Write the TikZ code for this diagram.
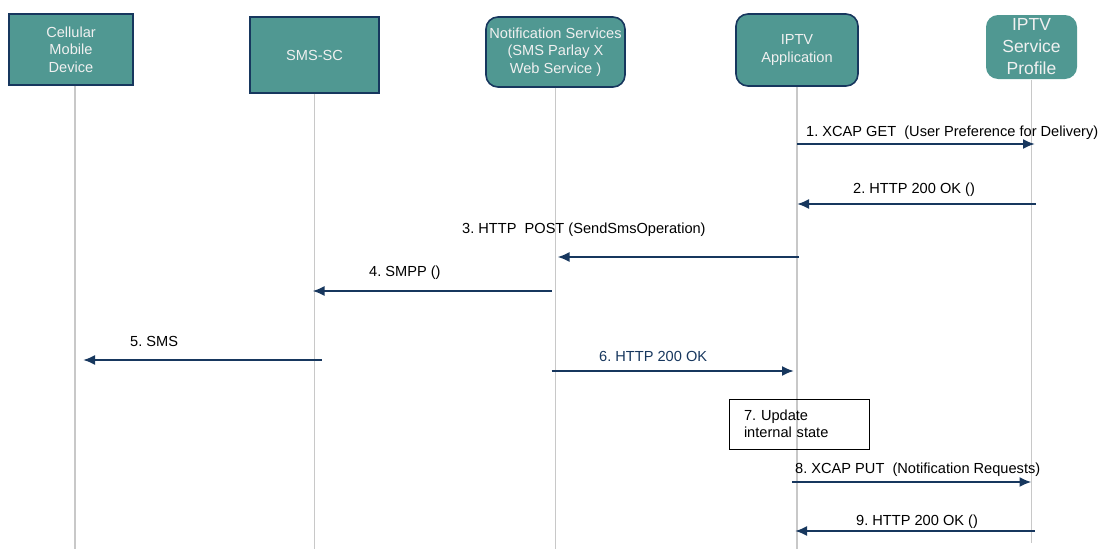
\documentclass[tikz,border=0pt]{standalone}
\usepackage{fontspec}
\setmainfont{Liberation Sans}
\usetikzlibrary{arrows.meta}
\frenchspacing

\definecolor{boxteal}{RGB}{80,152,146}
\definecolor{boxedge}{RGB}{23,55,94}
\definecolor{msgblue}{RGB}{23,55,94}
\definecolor{lifegray}{RGB}{200,200,200}

\tikzset{
  entity/.style={draw=boxedge, line width=1.6pt, fill=boxteal, text=white!94!black,
    align=center, inner sep=0pt, font=\fontsize{14.6}{17.7}\selectfont},
  rentity/.style={entity, rounded corners=12pt},
  lifeline/.style={draw=lifegray, line width=1.6pt},
  msg/.style={draw=msgblue, line width=2pt, -{Latex[length=12pt,width=10pt]}},
  msglabel/.style={anchor=west, inner sep=0pt, font=\fontsize{14.6}{17.7}\selectfont},
}

\begin{document}
\begin{tikzpicture}[x=1pt,y=-1pt]
\useasboundingbox (0,0) rectangle (1101,549);
\coordinate (bottom) at (0,549);

% entities
\node[entity, minimum width=124pt, minimum height=71pt] (dev) at (71,49.5) {Cellular\\Mobile\\Device};
\node[entity, minimum width=129pt, minimum height=76pt] (smsc) at (314.5,55) {SMS-SC};
\node[rentity, minimum width=139pt, minimum height=70pt] (notif) at (555.5,52) {Notification Services\\(SMS Parlay X\\Web Service )};
\node[rentity, minimum width=122pt, minimum height=72pt] (app) at (797,50) {IPTV\\Application};
\node[rentity, draw=none, minimum width=91pt, minimum height=64pt, font=\fontsize{17.5}{22}\selectfont] (prof) at (1031.5,47) {IPTV\\Service\\Profile};

% lifelines
\draw[lifeline] ([xshift=4pt]dev.south) -- ([xshift=4pt]dev.south |- bottom);
\draw[lifeline] (smsc.south) -- (smsc.south |- bottom);
\draw[lifeline] (notif.south) -- (notif.south |- bottom);
\draw[lifeline] (app.south) -- (app.south |- bottom);
\draw[lifeline] (prof.south) -- ([yshift=6pt]prof.south |- bottom);

% messages
\draw[msg] (app.south |- 0,144) -- ([xshift=3.5pt]prof.south |- 0,144);
\node[msglabel] (l1) at (806,133) {1. XCAP GET~~(User Preference for Delivery)};
\draw[msg] ([xshift=4pt]prof.south |- 0,204) -- (app.south |- 0,204);
\node[msglabel] (l2) at (853,190) {2. HTTP 200 OK ()};
\draw[msg] ([xshift=2pt]app.south |- 0,257) -- ([xshift=2pt]notif.south |- 0,257);
\node[msglabel] (l3) at (462,230) {3. HTTP~~POST (SendSmsOperation)};
\draw[msg] ([xshift=-4pt]notif.south |- 0,291) -- ([xshift=-2pt]smsc.south |- 0,291);
\node[msglabel] (l4) at (369,273) {4. SMPP ()};
\draw[msg] ([xshift=7pt]smsc.south |- 0,360) -- ([xshift=12pt]dev.south |- 0,360);
\node[msglabel] (l5) at (130,341) {5. SMS};
\draw[msg] ([xshift=-4pt]notif.south |- 0,371) -- ([xshift=-3pt]app.south |- 0,371);
\node[msglabel, text=msgblue] (l6) at (599,356) {6. HTTP 200 OK};

\node[draw=black, line width=1pt, text width=110pt, inner xsep=15pt, inner ysep=0pt,
  minimum height=50pt, align=left, font=\fontsize{14.6}{17.3}\selectfont] (upd) at (799,424) {7. Update\\internal state};

\draw[msg] ([xshift=-5pt]app.south |- 0,482) -- (prof.south |- 0,482);
\node[msglabel] (l8) at (795,470) {8. XCAP PUT~~(Notification Requests)};
\draw[msg] ([xshift=3pt]prof.south |- 0,531) -- ([xshift=-2pt]app.south |- 0,531);
\node[msglabel] (l9) at (856,521.5) {9. HTTP 200 OK ()};
\end{tikzpicture}
\end{document}
